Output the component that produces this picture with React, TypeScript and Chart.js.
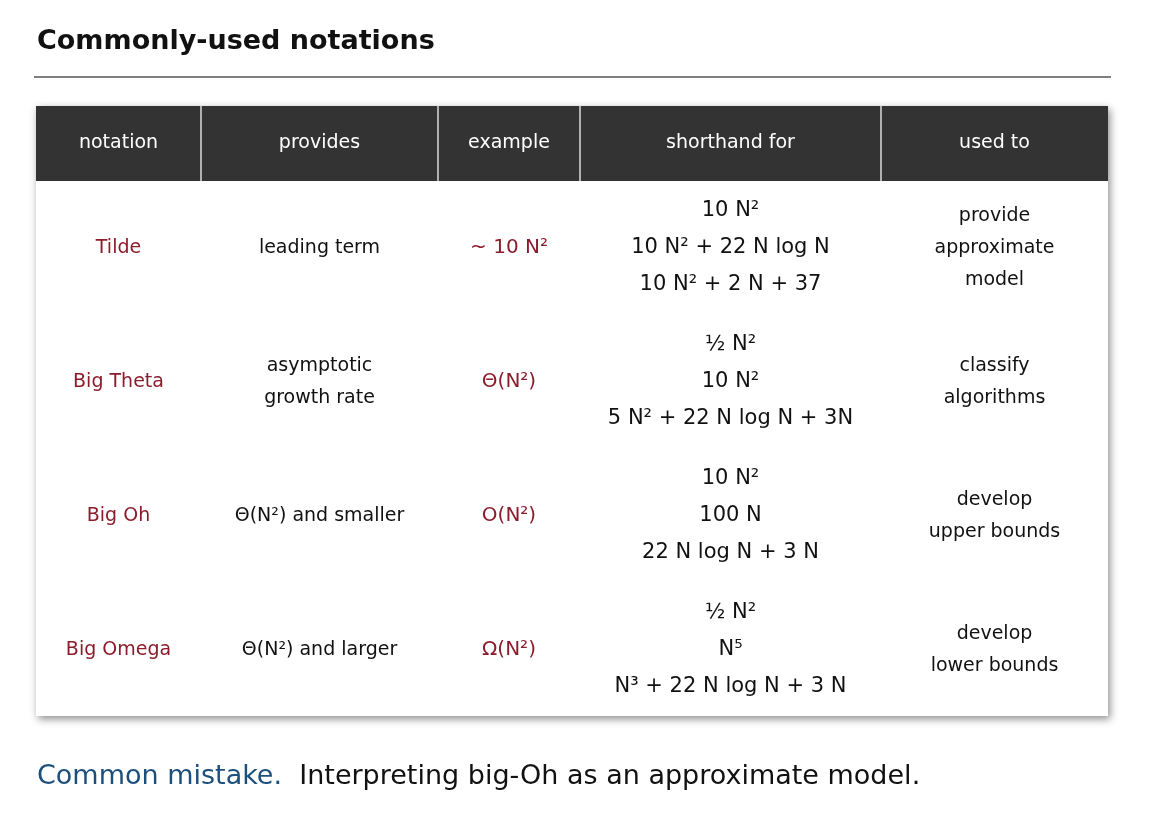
import React, { useEffect, useRef } from 'react';
import { Chart, registerables } from 'chart.js';

Chart.register(...registerables);

const title = 'Commonly-used notations';
const headers = ['notation', 'provides', 'example', 'shorthand for', 'used to'];
const notations = ['Tilde', 'Big Theta', 'Big Oh', 'Big Omega'];
const provides = [['leading term'], ['asymptotic', 'growth rate'], ['Θ(N²) and smaller'], ['Θ(N²) and larger']];
const examples = ['~ 10 N²', 'Θ(N²)', 'O(N²)', 'Ω(N²)'];
const shorthand = [
  ['10 N²', '10 N² + 22 N log N', '10 N² + 2 N + 37'],
  ['½ N²', '10 N²', '5 N² + 22 N log N + 3N'],
  ['10 N²', '100 N', '22 N log N + 3 N'],
  ['½ N²', 'N⁵', 'N³ + 22 N log N + 3 N'],
];
const usedTo = [['provide', 'approximate', 'model'], ['classify', 'algorithms'], ['develop', 'upper bounds'], ['develop', 'lower bounds']];
const noteLead = 'Common mistake.';
const noteText = 'Interpreting big-Oh as an approximate model.';

const FONT = '"DejaVu Sans", sans-serif';
const colEdges = [36, 201, 438, 580, 881, 1108];

const tablePlugin = {
  id: 'table',
  afterDraw(chart: Chart) {
    const ctx = chart.ctx;
    ctx.save();
    ctx.fillStyle = '#fff';
    ctx.fillRect(0, 0, 1156, 821);
    ctx.fillStyle = '#111';
    ctx.font = `bold 27px ${FONT}`;
    ctx.textBaseline = 'middle';
    ctx.textAlign = 'left';
    ctx.fillText(title, 37, 42);
    ctx.strokeStyle = '#555';
    ctx.lineWidth = 1.5;
    ctx.beginPath(); ctx.moveTo(34, 77); ctx.lineTo(1111, 77); ctx.stroke();

    // table box with shadow
    ctx.save();
    ctx.shadowColor = 'rgba(0,0,0,0.45)';
    ctx.shadowBlur = 8; ctx.shadowOffsetX = 2; ctx.shadowOffsetY = 3;
    ctx.fillStyle = '#fff';
    ctx.fillRect(36, 106, 1072, 610);
    ctx.restore();
    ctx.fillStyle = '#333';
    ctx.fillRect(36, 106, 1072, 75);
    ctx.strokeStyle = '#ddd'; ctx.lineWidth = 1.5;
    for (let i = 1; i < colEdges.length - 1; i++) {
      ctx.beginPath(); ctx.moveTo(colEdges[i], 106); ctx.lineTo(colEdges[i], 181); ctx.stroke();
    }
    ctx.textAlign = 'center';
    ctx.fillStyle = '#fff';
    ctx.font = `19px ${FONT}`;
    headers.forEach((h, i) => ctx.fillText(h, (colEdges[i] + colEdges[i + 1]) / 2, 143));

    const red = '#8a1c2c';
    const rowY = [248, 382, 516, 650];
    const lines = (arr: string[], cx: number, cy: number, gap: number, color: string) => {
      ctx.fillStyle = color;
      arr.forEach((t, k) => ctx.fillText(t, cx, cy + (k - (arr.length - 1) / 2) * gap));
    };
    const cx = (i: number) => (colEdges[i] + colEdges[i + 1]) / 2;
    rowY.forEach((y, r) => {
      ctx.font = `19px ${FONT}`;
      lines([notations[r]], cx(0), y, 32, red);
      lines(provides[r], cx(1), y, 32, '#111');
      ctx.font = `20px ${FONT}`;
      lines([examples[r]], cx(2), y, 32, red);
      ctx.font = `21px ${FONT}`;
      lines(shorthand[r], cx(3), y, 37, '#111');
      ctx.font = `19px ${FONT}`;
      lines(usedTo[r], cx(4), y, 32, '#111');
    });

    ctx.textAlign = 'left';
    ctx.font = `27px ${FONT}`;
    ctx.fillStyle = '#1d4f7c';
    ctx.fillText(noteLead, 37, 777);
    const w = ctx.measureText(noteLead + '  ').width;
    ctx.fillStyle = '#111';
    ctx.fillText(noteText, 37 + w, 777);
    ctx.restore();
  },
};

export default function App() {
  const ref = useRef<HTMLCanvasElement>(null);
  useEffect(() => {
    document.body.style.margin = '0';
    if (!ref.current) return;
    const chart = new Chart(ref.current, {
      type: 'scatter',
      data: { datasets: [{ data: [] }] },
      options: {
        animation: false,
        responsive: false,
        plugins: { legend: { display: false }, tooltip: { enabled: false } },
        scales: { x: { display: false }, y: { display: false } },
      },
      plugins: [tablePlugin],
    });
    return () => chart.destroy();
  }, []);
  return <canvas ref={ref} width={1156} height={821} style={{ display: 'block' }} />;
}
